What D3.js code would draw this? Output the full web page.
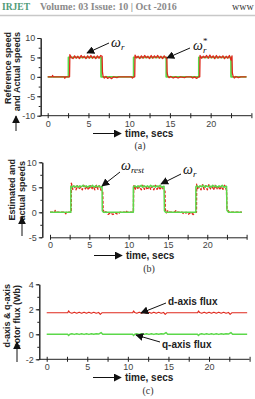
<!DOCTYPE html>
<html>
<head>
<meta charset="utf-8">
<script src="https://cdnjs.cloudflare.com/ajax/libs/d3/7.8.5/d3.min.js"></script>
<style>
    body { margin: 0; background: #fff; }
    svg { display: block; font-family: "Liberation Sans", Arial, sans-serif; }
</style>
</head>
<body>
<svg id="fig" width="255" height="399"></svg>
<script>
// ---- data (time in secs) ----

// (a) reference speed (green) and actual speed (red)
const refSpeedA = [[0,0],[2.55,0],[2.55,5],[6.55,5],[6.55,0],[10.55,0],[10.55,5],[14.55,5],[14.55,0],
    [18.55,0],[18.55,5],[22.5,5],[22.5,0],[24.4,0]];
const actSpeedA = [
    [0,0],[0.55,0],[0.6,0.35],[0.7,0],[2.05,0],[2.1,-0.35],[2.2,0],[2.68,0],
    [2.72,5.7],[2.9,5.0],[3.1,4.7],[3.3,5.4],[3.5,4.8],[3.7,5.3],[3.9,4.7],[4.1,5.5],[4.3,4.9],[4.5,5.3],
    [4.7,4.7],[4.9,5.4],[5.1,4.8],[5.3,5.5],[5.5,4.8],[5.7,5.3],[5.9,4.7],[6.1,5.4],[6.3,4.8],[6.5,5.5],[6.68,5.3],
    [6.72,1.2],[6.8,0.1],[6.95,-0.3],[7.15,0.1],[7.35,-0.4],[7.6,-0.1],[7.85,-0.45],[8.1,0],[8.5,-0.2],[8.7,0],
    [10.3,0],[10.4,-0.3],[10.55,0],[10.68,0],
    [10.72,5.6],[10.9,4.9],[11.1,5.3],[11.3,4.7],[11.5,5.4],[11.7,4.8],[11.9,5.5],[12.1,4.9],[12.3,5.3],[12.5,4.7],
    [12.7,5.5],[12.9,4.8],[13.1,5.4],[13.3,4.9],[13.5,5.5],[13.7,4.8],[13.9,5.3],[14.1,4.7],[14.3,5.4],[14.5,4.9],[14.62,5.0],
    [14.66,1.0],[14.75,0.2],[14.9,-0.2],[15.1,0.1],[15.4,-0.3],[15.7,0],[16.0,-0.3],[16.3,0],[16.8,-0.2],[17.0,0],
    [17.6,0],[17.8,-0.3],[18.0,0],[18.3,-0.4],[18.5,0],[18.66,0],
    [18.7,5.5],[18.9,4.8],[19.1,5.3],[19.3,4.9],[19.5,5.5],[19.7,4.8],[19.9,5.6],[20.1,4.9],[20.3,5.4],[20.5,4.7],
    [20.7,5.5],[20.9,4.8],[21.1,5.3],[21.3,4.9],[21.5,5.4],[21.7,4.7],[21.9,5.3],[22.1,4.8],[22.3,5.5],[22.5,4.3],[22.62,5.4],
    [22.66,1.0],[22.75,0.2],[22.9,-0.3],[23.1,0.1],[23.4,-0.2],[23.7,0],[24.4,0]
];

// (b) estimated speed (red, dashed) and actual speed (green)
const estSpeedB = [
    [0,0],[0.6,0],[0.65,0.35],[0.75,0],[1.9,0],[2.0,-0.3],[2.1,0],[2.7,0],
    [2.72,5.8],[2.9,4.6],[3.1,5.2],[3.3,4.5],[3.5,5.3],[3.7,4.6],[3.9,5.1],[4.1,4.5],[4.3,5.4],[4.5,4.7],[4.7,5.2],
    [4.9,4.5],[5.1,5.5],[5.3,4.6],[5.5,5.2],[5.7,4.5],[5.9,5.4],[6.1,4.6],[6.3,5.3],[6.5,4.4],[6.7,4.2],
    [6.75,0.8],[6.85,-0.2],[7.1,0.1],[7.4,-0.4],[7.7,-0.1],[8.0,-0.45],[8.3,-0.1],[8.6,-0.4],[8.9,0],[9.6,0],[9.7,0.3],[9.8,0],
    [10.6,0],[10.65,5.5],[10.8,4.5],[11.0,5.3],[11.2,4.6],[11.4,5.2],[11.6,4.5],[11.8,5.4],[12.0,4.6],[12.2,5.1],
    [12.4,4.5],[12.6,5.3],[12.8,4.6],[13.0,5.2],[13.2,4.5],[13.4,5.4],[13.6,4.6],[13.8,5.2],[14.0,4.5],[14.2,5.3],[14.4,4.6],[14.62,4.2],
    [14.66,0.6],[14.8,-0.1],[15.0,0.3],[15.3,0],[15.8,0],[16.0,0.3],[16.1,0],[16.8,0],[17.0,-0.3],[17.3,0],[17.6,-0.4],
    [17.9,0],[18.2,-0.45],[18.5,0],[18.62,0],
    [18.65,5.6],[18.8,4.6],[19.0,5.2],[19.2,4.5],[19.4,5.5],[19.6,4.6],[19.8,5.3],[20.0,4.5],[20.2,5.5],[20.4,4.7],
    [20.6,5.2],[20.8,4.5],[21.0,5.4],[21.2,4.6],[21.4,5.3],[21.6,4.5],[21.8,5.2],[22.0,4.6],[22.2,5.4],[22.45,4.4],
    [22.5,0.7],[22.65,0.3],[22.8,0],[24.4,0]
];
const actSpeedB = [
    [0,0],[2.65,0],[2.65,5.2],[2.8,5.0],[3.0,5.3],[3.2,5.1],[3.4,5.3],[3.6,5.0],[3.8,5.3],[4.0,5.1],[4.2,5.4],
    [4.4,5.1],[4.6,5.3],[4.8,5.0],[5.0,5.3],[5.2,5.1],[5.4,5.4],[5.6,5.0],[5.8,5.3],[6.0,5.1],[6.2,5.3],[6.4,5.0],[6.62,5.2],
    [6.65,0.3],[6.8,0],[10.6,0],
    [10.6,5.1],[10.8,5.3],[11.0,5.0],[11.2,5.3],[11.4,5.1],[11.6,5.4],[11.8,5.0],[12.0,5.3],[12.2,5.1],[12.4,5.3],
    [12.6,5.0],[12.8,5.4],[13.0,5.1],[13.2,5.3],[13.4,5.0],[13.6,5.3],[13.8,5.1],[14.0,5.4],[14.2,5.0],[14.5,5.2],
    [14.55,0.3],[14.7,0],[18.55,0],
    [18.55,5.1],[18.7,5.3],[18.9,5.0],[19.1,5.3],[19.3,5.1],[19.5,5.4],[19.7,5.0],[19.9,5.3],[20.1,5.1],[20.3,5.3],
    [20.5,5.0],[20.7,5.4],[20.9,5.1],[21.1,5.3],[21.3,5.0],[21.5,5.3],[21.7,5.1],[21.9,5.4],[22.1,5.0],[22.45,5.2],
    [22.5,0.4],[22.7,0],[24.4,0]
];

// (c) d-axis (red) and q-axis (green) rotor flux, Wb
const dFlux = [
    [0,1.72],[2.6,1.72],[2.7,1.88],[2.85,1.74],[3.1,1.69],[3.4,1.77],[3.7,1.69],[4.0,1.77],[4.3,1.69],[4.6,1.77],
    [4.9,1.69],[5.2,1.77],[5.5,1.69],[5.8,1.76],[6.1,1.69],[6.4,1.75],[6.6,1.6],[6.8,1.72],
    [10.6,1.72],[10.7,1.87],[10.85,1.74],[11.1,1.69],[11.4,1.77],[11.7,1.69],[12.0,1.77],[12.3,1.69],[12.6,1.77],
    [12.9,1.69],[13.2,1.77],[13.5,1.69],[13.8,1.76],[14.1,1.69],[14.4,1.75],[14.6,1.6],[14.8,1.72],
    [18.6,1.72],[18.7,1.87],[18.85,1.74],[19.1,1.69],[19.4,1.77],[19.7,1.69],[20.0,1.77],[20.3,1.69],[20.6,1.77],
    [20.9,1.69],[21.2,1.77],[21.5,1.69],[21.8,1.76],[22.1,1.69],[22.4,1.75],[22.6,1.6],[22.8,1.72],[24.7,1.72]
];
const qFlux = [
    [0,0],[2.6,0],[2.7,-0.1],[2.85,0],[3.1,0.04],[3.4,-0.01],[3.7,0.04],[4.0,-0.01],[4.3,0.04],[4.6,-0.01],[4.9,0.04],
    [5.2,-0.01],[5.5,0.04],[5.8,0],[6.1,0.04],[6.4,0.02],[6.7,0.14],[6.9,0],
    [10.6,0],[10.7,-0.1],[10.85,0],[11.1,0.04],[11.4,-0.01],[11.7,0.04],[12.0,-0.01],[12.3,0.04],[12.6,-0.01],[12.9,0.04],
    [13.2,-0.01],[13.5,0.04],[13.8,0],[14.1,0.04],[14.4,0.02],[14.7,0.14],[14.9,0],
    [18.6,0],[18.7,-0.1],[18.85,0],[19.1,0.04],[19.4,-0.01],[19.7,0.04],[20.0,-0.01],[20.3,0.04],[20.6,-0.01],[20.9,0.04],
    [21.2,-0.01],[21.5,0.04],[21.8,0],[22.1,0.04],[22.4,0.02],[22.7,0.14],[22.9,0],[24.7,0]
];

// tick values
const timeTicks = d3.range(0, 25.01, 2.5);
const timeLabels = [0, 5, 10, 15, 20];
const speedTicksA = d3.range(-10, 10.01, 2.5);
const speedLabelsA = [-10, -5, 0, 5, 10];
const speedTicksB = d3.range(-5, 10.01, 2.5);
const speedLabelsB = [-5, 0, 5, 10];
const fluxTicks = [-2, -1, 0, 1, 2, 3, 4];
const fluxLabels = [-2, 0, 2, 4];

const GREEN = '#5cd84a';
const RED = '#e0281c';
const AXIS = '#222';

const svg = d3.select('#fig');
svg.append('rect').attr('width', 255).attr('height', 399).attr('fill', '#fff');

// arrow head marker
svg.append('defs').append('marker')
    .attr('id', 'ah')
    .attr('viewBox', '0 0 10 10')
    .attr('refX', 9).attr('refY', 5)
    .attr('markerWidth', 8).attr('markerHeight', 8)
    .attr('markerUnits', 'userSpaceOnUse')
    .attr('orient', 'auto')
    .append('path').attr('d', 'M0,0L10,5L0,10z').attr('fill', '#111');

// header
svg.append('text').attr('x', 2).attr('y', 10)
    .style('font-family', 'Liberation Serif').style('font-size', '9.5px').style('font-weight', 'bold')
    .attr('fill', '#4f9b77').text('IRJET');
svg.append('text').attr('x', 40).attr('y', 10)
    .style('font-family', 'Liberation Serif').style('font-size', '10px').style('font-weight', 'bold')
    .attr('fill', '#8a8a8a').text('Volume: 03 Issue: 10 | Oct -2016');
svg.append('text').attr('x', 232).attr('y', 10)
    .style('font-family', 'Liberation Serif').style('font-size', '10px')
    .attr('fill', '#333').text('www');
svg.append('line').attr('x1', 0).attr('x2', 255).attr('y1', 15.5).attr('y2', 15.5)
    .attr('stroke', '#c8c8c8').attr('stroke-width', 1.5);

function arrow(x1, y1, x2, y2) {
    svg.append('line')
        .attr('x1', x1).attr('y1', y1).attr('x2', x2).attr('y2', y2)
        .attr('stroke', '#111').attr('stroke-width', 1)
        .attr('marker-end', 'url(#ah)');
}

function drawPanel(p) {
    const x = d3.scaleLinear().domain([0, 25]).range(p.xRange);
    const y = d3.scaleLinear().domain(p.yDomain).range(p.yRange);
    const g = svg.append('g');

    // y axis: minor then major ticks
    g.append('g')
        .attr('transform', `translate(${p.yAxisX},0)`)
        .call(d3.axisLeft(y).tickValues(p.yTicks).tickSize(2).tickSizeOuter(0).tickFormat(''));
    g.append('g')
        .attr('transform', `translate(${p.yAxisX},0)`)
        .call(d3.axisLeft(y).tickValues(p.yLabels).tickSize(3.5).tickSizeOuter(0).tickPadding(2)
            .tickFormat(d => d));

    // x axis along the bottom, ticks crossing the line
    const xg = g.append('g')
        .attr('transform', `translate(0,${p.yRange[0]})`)
        .call(d3.axisBottom(x).tickValues(p.xTicks).tickSize(2.5).tickSizeOuter(0).tickPadding(2)
            .tickFormat(d => timeLabels.includes(d) ? d : ''));
    xg.selectAll('.tick line').attr('y1', -2.5).attr('y2', 2.5);
    if (p.joinAxes) {
        xg.select('.domain').attr('d', `M${p.yAxisX},0H${p.xRange[1]}`);
    }

    g.selectAll('.domain').attr('stroke', AXIS);
    g.selectAll('.tick line').attr('stroke', AXIS);
    g.selectAll('.tick text').attr('fill', '#444').style('font-size', '9px')
        .style('font-family', '"Liberation Sans", Arial, sans-serif');

    const line = d3.line().x(d => x(d[0])).y(d => y(d[1]));
    p.series.forEach(s => {
        g.append('path')
            .datum(s.data)
            .attr('d', line)
            .attr('fill', 'none')
            .attr('stroke', s.color)
            .attr('stroke-width', s.width)
            .attr('stroke-dasharray', s.dash || null)
            .attr('stroke-linejoin', 'round');
    });

    // y axis title, two rotated lines
    p.yTitle.forEach(t => {
        g.append('text')
            .attr('transform', `translate(${t.x},${t.y}) rotate(-90)`)
            .style('text-anchor', 'end')
            .style('font-size', '9px').style('font-weight', 'bold')
            .attr('fill', '#222')
            .text(t.text);
    });
    // upward arrow under the y title
    arrow(p.yArrow[0], p.yArrow[2], p.yArrow[0], p.yArrow[1]);

    // x axis title with arrow
    arrow(p.xTitle.x - 32, p.xTitle.y - 3.5, p.xTitle.x - 4, p.xTitle.y - 3.5);
    g.append('text')
        .attr('x', p.xTitle.x).attr('y', p.xTitle.y)
        .style('font-size', '10px').style('font-weight', 'bold')
        .attr('fill', '#222')
        .text('time, secs');
    g.append('text')
        .attr('x', p.caption.x).attr('y', p.caption.y)
        .style('font-family', '"Liberation Serif", serif').style('font-size', '10px')
        .style('text-anchor', 'middle')
        .attr('fill', '#333')
        .text(p.caption.text);
}

function omega(xPos, yPos, sub, star) {
    const t = svg.append('text').attr('x', xPos).attr('y', yPos)
        .style('font-family', '"Liberation Serif", serif').style('font-style', 'italic')
        .style('font-size', '14px').attr('fill', '#111');
    t.append('tspan').text('ω');
    t.append('tspan').attr('dy', 3).style('font-size', '9px').text(sub);
    if (star) {
        svg.append('text').attr('x', xPos + 10).attr('y', yPos - 6)
            .style('font-family', '"Liberation Serif", serif').style('font-size', '9px')
            .attr('fill', '#111').text('*');
    }
}

// (a)
drawPanel({
    xRange: [47.7, 251.4], yDomain: [-10, 10], yRange: [115.7, 38], yAxisX: 40.7, joinAxes: true,
    xTicks: timeTicks, yTicks: speedTicksA, yLabels: speedLabelsA,
    series: [
        { data: refSpeedA, color: GREEN, width: 1.8 },
        { data: actSpeedA, color: RED, width: 1.3 }
    ],
    yTitle: [
        { text: 'Reference speed', x: 10.5, y: 32 },
        { text: 'and Actual speeds', x: 20, y: 32 }
    ],
    yArrow: [16, 116, 131],
    xTitle: { x: 125, y: 137 },
    caption: { text: '(a)', x: 140, y: 149 }
});
omega(111, 47, 'r', false);
arrow(109, 43, 87, 53);
omega(193, 50, 'r', true);
arrow(190, 48, 167, 58);

// (b)
drawPanel({
    xRange: [50, 246.6], yDomain: [-5, 10], yRange: [237.3, 162.3], yAxisX: 42.3, joinAxes: false,
    xTicks: timeTicks, yTicks: speedTicksB, yLabels: speedLabelsB,
    series: [
        { data: estSpeedB, color: RED, width: 1.4, dash: '3,1.5' },
        { data: actSpeedB, color: GREEN, width: 1.5 }
    ],
    yTitle: [
        { text: 'Estimated and', x: 15, y: 159 },
        { text: 'actual speeds', x: 25, y: 161 }
    ],
    yArrow: [22, 217, 236],
    xTitle: { x: 126, y: 259 },
    caption: { text: '(b)', x: 149, y: 272 }
});
omega(121, 170, 'rest', false);
arrow(120, 172, 102, 186);
omega(183, 174, 'r', false);
arrow(181, 174, 161, 184);

// (c)
drawPanel({
    xRange: [46.7, 249.6], yDomain: [-2, 4], yRange: [359.3, 284.3], yAxisX: 39.3, joinAxes: true,
    xTicks: timeTicks, yTicks: fluxTicks, yLabels: fluxLabels,
    series: [
        { data: dFlux, color: RED, width: 1.1 },
        { data: qFlux, color: GREEN, width: 1.4 }
    ],
    yTitle: [
        { text: 'd-axis & q-axis', x: 9.5, y: 284 },
        { text: 'rotor flux (Wb)', x: 20, y: 285 }
    ],
    yArrow: [17, 342, 362],
    xTitle: { x: 125, y: 381 },
    caption: { text: '(c)', x: 148, y: 394 }
});
svg.append('text').attr('x', 168).attr('y', 305)
    .style('font-size', '10px').style('font-weight', 'bold').attr('fill', '#222').text('d-axis flux');
arrow(166, 303, 141, 313);
svg.append('text').attr('x', 162).attr('y', 348)
    .style('font-size', '10px').style('font-weight', 'bold').attr('fill', '#222').text('q-axis flux');
arrow(160, 342, 136, 335);
</script>
</body>
</html>
